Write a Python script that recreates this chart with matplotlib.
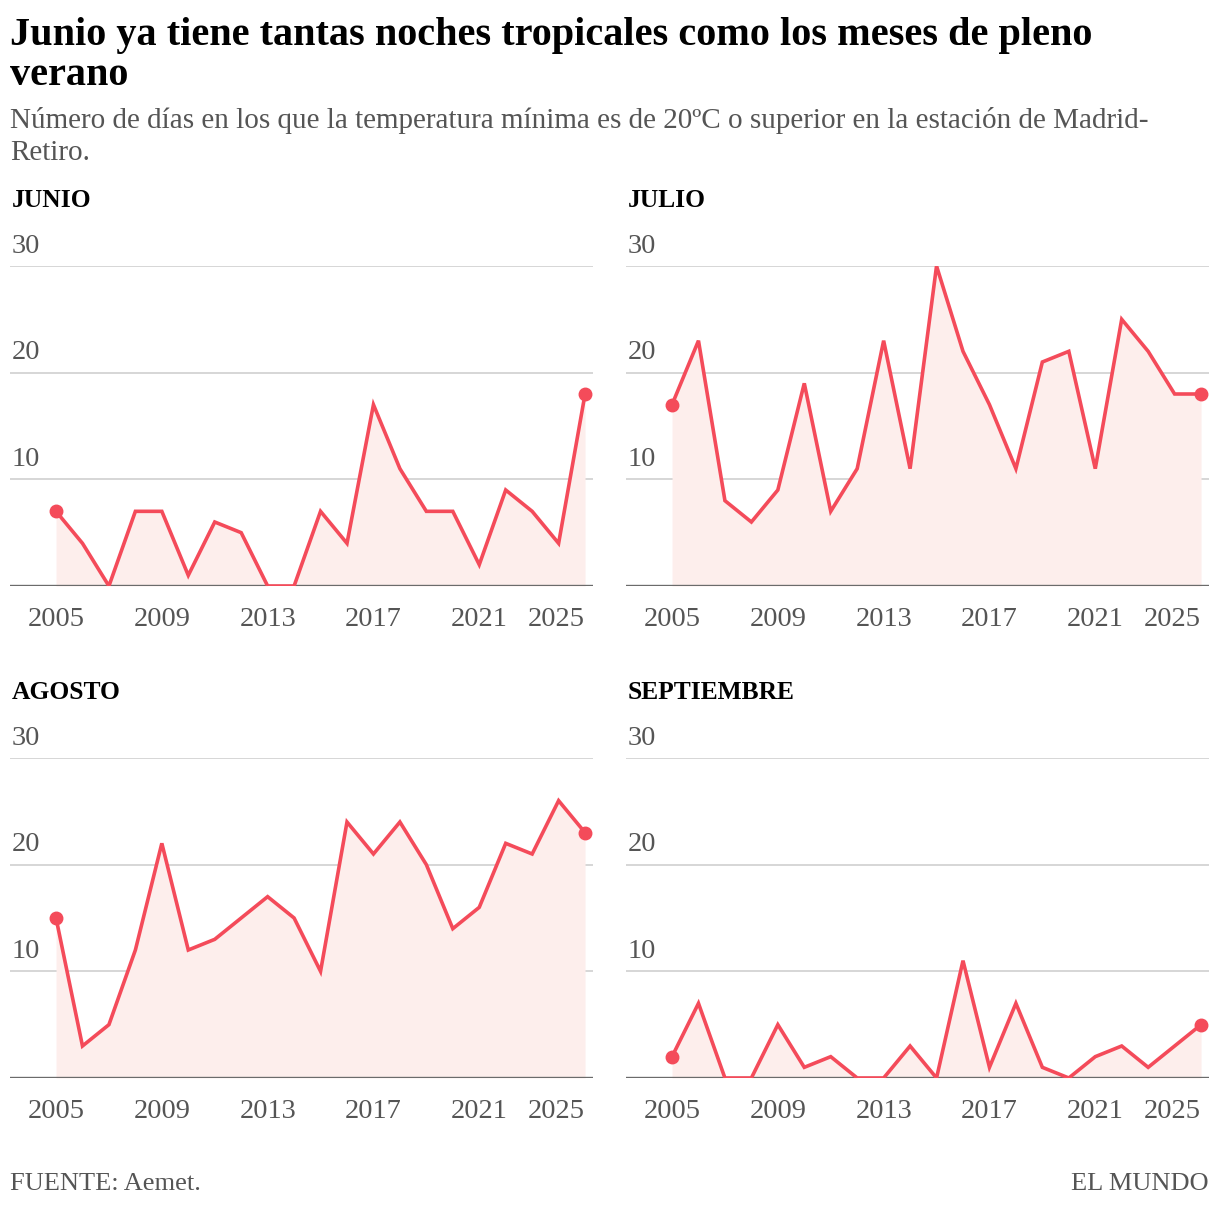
import matplotlib.pyplot as plt
import numpy as np

# datos: noches tropicales por mes (Madrid-Retiro)
years = list(range(2005, 2026))
junio = [7, 4, 0, 7, 7, 1, 6, 5, 0, 0, 7, 4, 17, 11, 7, 7, 2, 9, 7, 4, 18]
julio = [17, 23, 8, 6, 9, 19, 7, 11, 23, 11, 30, 22, 17, 11, 21, 22, 11, 25, 22, 18, 18]
agosto = [15, 3, 5, 12, 22, 12, 13, 15, 17, 15, 10, 24, 21, 24, 20, 14, 16, 22, 21, 26, 23]
septiembre = [2, 7, 0, 0, 5, 1, 2, 0, 0, 3, 0, 11, 1, 7, 1, 0, 2, 3, 1, 3, 5]

meses = ['JUNIO', 'JULIO', 'AGOSTO', 'SEPTIEMBRE']
series = [junio, julio, agosto, septiembre]
yticks = [10, 20, 30]
xticks = [2005, 2009, 2013, 2017, 2021, 2025]

RED = '#f44b5a'
FILL = '#fdeeec'
GRAY = '#555555'
SERIF = ['Liberation Serif', 'DejaVu Serif']

plt.rcParams['font.family'] = SERIF

W, H = 1220, 1208
fig = plt.figure(figsize=(W / 100, H / 100), dpi=100)


def px(x, y):
    return x / W, 1 - y / H


# titulo y subtitulo, linea a linea
fig.text(*px(10, 45), 'Junio ya tiene tantas noches tropicales como los meses de pleno',
         fontsize=29, fontweight='bold', va='baseline', ha='left')
fig.text(*px(10, 85), 'verano', fontsize=29, fontweight='bold', va='baseline', ha='left')
fig.text(*px(10, 128),
         'Número de días en los que la temperatura mínima es de 20ºC o superior en la estación de Madrid-',
         fontsize=21, color=GRAY, va='baseline', ha='left')
fig.text(*px(10, 160), 'Retiro.', fontsize=21, color=GRAY, va='baseline', ha='left')

# posiciones de los paneles en pixeles (izq, y de 30, y de 0)
lefts = [10, 626, 10, 626]
tops = [266, 266, 758, 758]
bottoms = [586, 586, 1078, 1078]
aw = 583

for i in range(4):
    ax = fig.add_axes([lefts[i] / W, 1 - bottoms[i] / H, aw / W, (bottoms[i] - tops[i]) / H])
    vals = series[i]
    ax.fill_between(years, vals, 0, color=FILL, lw=0, zorder=1)
    ax.plot(years, vals, color=RED, lw=2.6, zorder=3, solid_joinstyle='miter')
    ax.plot([years[0], years[-1]], [vals[0], vals[-1]], 'o', color=RED, ms=9, zorder=4)

    for v in yticks:
        ax.axhline(v, color='#d6d6d6', lw=1.4, zorder=0)
        ax.text(0.003, v + 0.7, str(v), transform=ax.get_yaxis_transform(),
                fontsize=20.5, color=GRAY, ha='left', va='bottom')
    ax.axhline(0, color='#6b6b6b', lw=1.7, zorder=2)

    ax.set_xlim(2003.26, 2025.3)
    ax.set_ylim(0, 30)
    ax.set_yticks([])
    ax.set_xticks(xticks)
    ax.set_xticklabels([str(x) for x in xticks])
    ax.tick_params(axis='x', length=0, pad=15, labelsize=20.5, labelcolor=GRAY)
    ax.get_xticklabels()[-1].set_ha('right')
    for s in ax.spines.values():
        s.set_visible(False)
    ax.patch.set_alpha(0)

    fig.text(*px(lefts[i] + 2, tops[i] - 59), meses[i],
             fontsize=18.4, fontweight='bold', va='baseline', ha='left')

fig.text(*px(10, 1190), 'FUENTE: Aemet.', fontsize=19, color=GRAY,
         va='baseline', ha='left')
fig.text(*px(1209, 1190), 'EL MUNDO', fontsize=19, color=GRAY,
         va='baseline', ha='right')

fig.savefig('out.png', dpi=100)
